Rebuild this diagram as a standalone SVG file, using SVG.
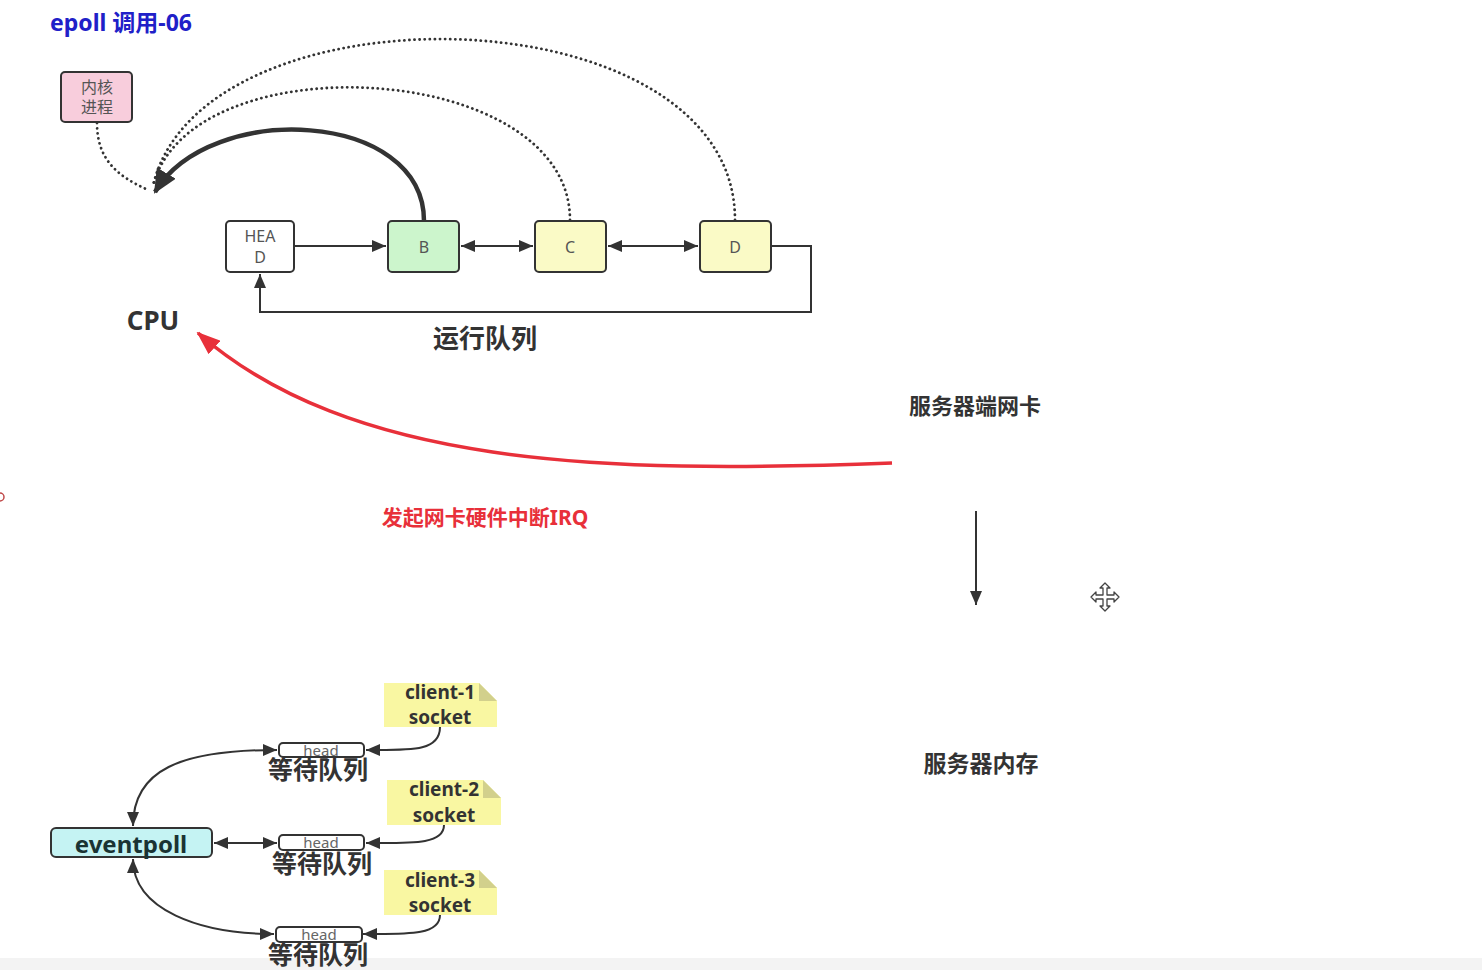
<svg xmlns="http://www.w3.org/2000/svg" width="1482" height="970" viewBox="0 0 1482 970">
<style>
.t{font-family:"Noto Sans","Noto Sans CJK SC",sans-serif;dominant-baseline:central;text-anchor:middle}
.b{font-weight:bold}
.box{stroke:#333;stroke-width:2}
.ln{fill:none;stroke:#333;stroke-width:2}
.dot{fill:none;stroke:#333;stroke-width:2.8;stroke-dasharray:0.1 5;stroke-linecap:round}
</style>
<defs>
<marker id="a" markerUnits="userSpaceOnUse" markerWidth="14" markerHeight="12" refX="14" refY="6" orient="auto-start-reverse" viewBox="0 0 14 12"><path d="M0,0 L14,6 L0,12 z" fill="#333"/></marker>
<marker id="big" markerUnits="userSpaceOnUse" markerWidth="24" markerHeight="22" refX="22" refY="11" orient="auto" viewBox="0 0 24 22"><path d="M0,0 L24,11 L0,22 z" fill="#333"/></marker>
<marker id="red" markerUnits="userSpaceOnUse" markerWidth="24" markerHeight="18" refX="22" refY="9" orient="auto" viewBox="0 0 24 18"><path d="M0,0 L24,9 L0,18 z" fill="#e8303a"/></marker>
</defs>
<rect width="1482" height="970" fill="#fff"/>
<rect x="0" y="958" width="1482" height="12" fill="#f3f3f3"/>
<circle cx="0" cy="497" r="4" fill="none" stroke="#c04848" stroke-width="1.5"/>

<text class="t b" x="50" y="22" style="text-anchor:start" font-size="23" fill="#2020c8">epoll 调用-06</text>

<g id="connectors">
<path class="dot" d="M97,123 C97,160 118,176 146,189"/>
<path class="dot" d="M735,220 C735,-10 200,-20 153,186"/>
<path class="dot" d="M570,220 C570,60 190,40 153,186"/>
<path d="M424,221 C424,110 210,100 155,192" fill="none" stroke="#333" stroke-width="4.5" marker-end="url(#big)"/>
<path class="ln" d="M294,246 H386" marker-end="url(#a)"/>
<path class="ln" d="M461,246 H533" marker-start="url(#a)" marker-end="url(#a)"/>
<path class="ln" d="M608,246 H698" marker-start="url(#a)" marker-end="url(#a)"/>
<path class="ln" d="M771,246 H811 V312 H260 V274" marker-end="url(#a)"/>
<path d="M892,463 C600,474 350,466 198,333" fill="none" stroke="#e8303a" stroke-width="3.5" marker-end="url(#red)"/>
<path class="ln" d="M976,511 V605" marker-end="url(#a)"/>
<path class="ln" d="M440,727 C440,752 410,750 366,750" marker-end="url(#a)"/>
<path class="ln" d="M444,825 C444,845 410,843 366,843" marker-end="url(#a)"/>
<path class="ln" d="M440,915 C440,936 405,934 363,934" marker-end="url(#a)"/>
<path class="ln" d="M277,750 C180,750 133,770 133,826" marker-start="url(#a)" marker-end="url(#a)"/>
<path class="ln" d="M214,843 H277" marker-start="url(#a)" marker-end="url(#a)"/>
<path class="ln" d="M133,859 C133,910 200,934 274,934" marker-start="url(#a)" marker-end="url(#a)"/>
</g>

<g id="kernel">
<rect class="box" x="61" y="72" width="71" height="50" rx="4" fill="#f8cddc"/>
<text class="t" x="97" y="87" font-size="16" fill="#555">内核</text>
<text class="t" x="97" y="107" font-size="16" fill="#555">进程</text>
</g>
<g id="head">
<rect class="box" x="226" y="221" width="68" height="51" rx="4" fill="#fff"/>
<text class="t" x="260" y="236" font-size="16" fill="#555">HEA</text>
<text class="t" x="260" y="257" font-size="16" fill="#555">D</text>
</g>
<g id="nodeB">
<rect class="box" x="388" y="221" width="71" height="51" rx="4" fill="#ccf5cc"/>
<text class="t" x="424" y="247" font-size="16" fill="#555">B</text>
</g>
<g id="nodeC">
<rect class="box" x="535" y="221" width="71" height="51" rx="4" fill="#fafac6"/>
<text class="t" x="570" y="247" font-size="16" fill="#555">C</text>
</g>
<g id="nodeD">
<rect class="box" x="700" y="221" width="71" height="51" rx="4" fill="#fafac6"/>
<text class="t" x="735" y="247" font-size="16" fill="#555">D</text>
</g>

<g id="labels">
<text class="t b" x="153" y="320" font-size="26" fill="#333">CPU</text>
<text class="t b" x="485" y="338" font-size="26" fill="#333">运行队列</text>
<text class="t b" x="975" y="405" font-size="22" fill="#333">服务器端网卡</text>
<text class="t b" x="485" y="517" font-size="21" fill="#e8303a">发起网卡硬件中断IRQ</text>
<text class="t b" x="981" y="763" font-size="23" fill="#333">服务器内存</text>
</g>

<g id="cursor" transform="translate(1105,597)">
<polygon points="0,-14 5,-9 2,-9 2,-2 9,-2 9,-5 14,0 9,5 9,2 2,2 2,9 5,9 0,14 -5,9 -2,9 -2,2 -9,2 -9,5 -14,0 -9,-5 -9,-2 -2,-2 -2,-9 -5,-9" fill="#fff" stroke="#444" stroke-width="1.3" stroke-linejoin="round"/>
</g>

<g id="eventpoll">
<rect class="box" x="51" y="828" width="161" height="29" rx="5" fill="#c5f3f3"/>
<text class="t b" x="131" y="843" font-size="24" fill="#1a3333">eventpoll</text>
</g>

<g id="wait1">
<rect class="box" x="279" y="743" width="85" height="14" rx="4" fill="#fff"/>
<text class="t" x="321" y="750" font-size="15" fill="#666">head</text>
<text class="t b" x="318" y="769" font-size="25" fill="#333">等待队列</text>
</g>
<g id="wait2">
<rect class="box" x="279" y="835" width="85" height="15" rx="4" fill="#fff"/>
<text class="t" x="321" y="842" font-size="15" fill="#666">head</text>
<text class="t b" x="322" y="863" font-size="25" fill="#333">等待队列</text>
</g>
<g id="wait3">
<rect class="box" x="276" y="927" width="86" height="15" rx="4" fill="#fff"/>
<text class="t" x="319" y="934" font-size="15" fill="#666">head</text>
<text class="t b" x="318" y="954" font-size="25" fill="#333">等待队列</text>
</g>

<g id="client1">
<path d="M384,683 H479 L497,701 V727 H384 Z" fill="#f9f7a2"/>
<path d="M479,683 L497,701 H479 Z" fill="#d2d08c"/>
<text class="t b" x="440" y="692" font-size="19" fill="#333">client-1</text>
<text class="t b" x="440" y="717" font-size="19" fill="#333">socket</text>
</g>
<g id="client2">
<path d="M387,780 H483 L501,798 V825 H387 Z" fill="#f9f7a2"/>
<path d="M483,780 L501,798 H483 Z" fill="#d2d08c"/>
<text class="t b" x="444" y="789" font-size="19" fill="#333">client-2</text>
<text class="t b" x="444" y="815" font-size="19" fill="#333">socket</text>
</g>
<g id="client3">
<path d="M384,870 H479 L497,888 V915 H384 Z" fill="#f9f7a2"/>
<path d="M479,870 L497,888 H479 Z" fill="#d2d08c"/>
<text class="t b" x="440" y="880" font-size="19" fill="#333">client-3</text>
<text class="t b" x="440" y="905" font-size="19" fill="#333">socket</text>
</g>
</svg>
